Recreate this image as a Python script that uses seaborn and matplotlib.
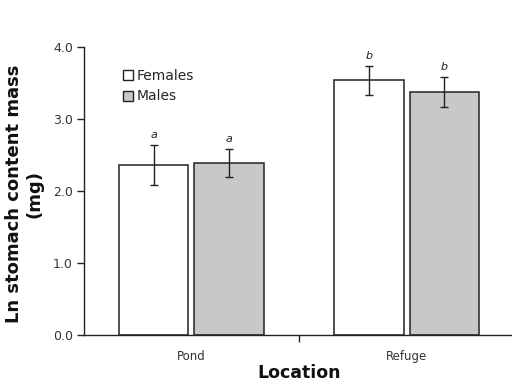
import matplotlib
matplotlib.use("Agg")
import matplotlib.pyplot as plt
import seaborn as sns
import pandas as pd
import numpy as np
from matplotlib.lines import Line2D

locations = ["Pond", "Refuge"]
sexes = ["Females", "Males"]
female_means = [2.36, 3.54]
male_means = [2.39, 3.37]
female_err = [0.28, 0.20]
male_err = [0.19, 0.21]
female_letters = ["a", "b"]
male_letters = ["a", "b"]
ytick_values = [0, 1, 2, 3, 4]

sns.set_style("ticks")
plt.rcParams['font.family'] = ['DejaVu Sans']

df = pd.DataFrame({
    "Location": locations * 2,
    "Sex": [sexes[0]] * 2 + [sexes[1]] * 2,
    "Mass": female_means + male_means,
})

fig = plt.figure(figsize=(5.12, 3.82), dpi=100)
ax = fig.add_axes([0.164, 0.123, 0.84, 0.754])

sns.barplot(data=df, x="Location", y="Mass", hue="Sex", order=locations,
            hue_order=sexes, palette={"Females": "white", "Males": "#c8c8c8"},
            width=0.7, gap=0.08, errorbar=None, edgecolor="#222222",
            linewidth=1.1, ax=ax, legend=False)

errs = {"Females": female_err, "Males": male_err}
means = {"Females": female_means, "Males": male_means}
letters = {"Females": female_letters, "Males": male_letters}
offsets = {"Females": -0.175, "Males": 0.175}
for s in sexes:
    xs = np.arange(len(locations)) + offsets[s]
    ax.errorbar(xs, means[s], yerr=errs[s], fmt="none", ecolor="#222222",
                elinewidth=1.0, capsize=3, capthick=1.0)
    for x, m, e, l in zip(xs, means[s], errs[s], letters[s]):
        ax.text(x, m + e + 0.07, l, ha="center", va="bottom",
                fontsize=8, style="italic", color="#222222")

ax.set_xlim(-0.5, 1.5)
ax.set_ylim(0, 4.0)
ax.set_yticks(ytick_values)
ax.set_yticklabels([f"{v:.1f}" for v in ytick_values], fontsize=9, color="#333333")
ax.set_xticks([0, 1])
ax.set_xticklabels(locations, fontsize=8.5, color="#333333")
ax.set_xticks([0.5], minor=True)
ax.tick_params(axis="x", which="major", length=0, pad=11)
ax.tick_params(axis="x", which="minor", direction="out", length=5, width=1,
               color="#222222")
ax.tick_params(axis="y", direction="out", length=5, width=1, color="#222222", pad=3)
ax.set_xlabel("Location", fontsize=12.5, fontweight="bold", color="#111111")
ax.xaxis.set_label_coords(0.5, -0.10)
ax.set_ylabel("Ln stomach content mass\n(mg)", fontsize=13, fontweight="bold",
              color="#111111", linespacing=1.15)
ax.yaxis.set_label_coords(-0.095, 0.49)
sns.despine(ax=ax)
for sp in ["left", "bottom"]:
    ax.spines[sp].set_color("#222222")
    ax.spines[sp].set_linewidth(1.0)

handles = [Line2D([0], [0], marker="s", linestyle="none", markersize=7.5,
                  markerfacecolor=c, markeredgecolor="#222222", markeredgewidth=1.0)
           for c in ["white", "#c8c8c8"]]
ax.legend(handles, sexes, loc="upper left", bbox_to_anchor=(0.086, 0.923),
          frameon=False, fontsize=10, handletextpad=0.1, labelspacing=0.45,
          handlelength=1.0, borderaxespad=0, borderpad=0)

fig.savefig("out.png", dpi=100)
